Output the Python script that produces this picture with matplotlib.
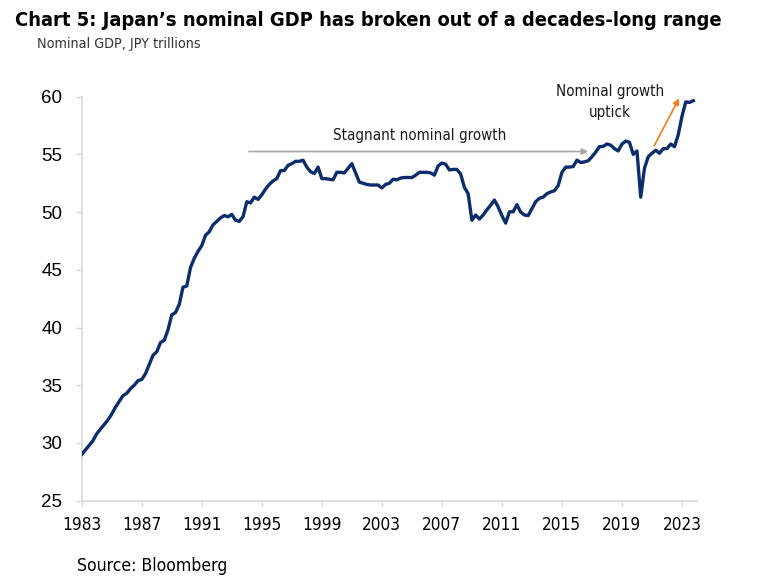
import matplotlib
matplotlib.use("Agg")
import matplotlib.pyplot as plt
import numpy as np

# Quarterly nominal GDP (JPY trillions), 1983Q1 .. 2023Q4
gdp_1983_1992 = [
    29.0, 29.4, 29.8, 30.2,
    30.8, 31.2, 31.6, 32.0,
    32.5, 33.1, 33.6, 34.1,
    34.3, 34.7, 35.0, 35.4,
    35.5, 36.0, 36.8, 37.6,
    37.9, 38.7, 38.9, 39.8,
    41.1, 41.3, 42.0, 43.5,
    43.6, 45.2, 46.0, 46.6,
    47.1, 48.0, 48.3, 48.9,
    49.2, 49.5, 49.7, 49.6,
]
gdp_1993_2002 = [
    49.8, 49.3, 49.2, 49.6,
    50.9, 50.8, 51.3, 51.1,
    51.5, 52.0, 52.4, 52.7,
    52.9, 53.6, 53.6, 54.05,
    54.2, 54.4, 54.4, 54.5,
    53.9, 53.5, 53.35, 53.9,
    52.9, 52.9, 52.85, 52.8,
    53.45, 53.45, 53.4, 53.8,
    54.2, 53.4, 52.6, 52.5,
    52.4, 52.35, 52.35, 52.35,
]
gdp_2003_2012 = [
    52.1, 52.4, 52.5, 52.85,
    52.8, 52.95, 53.0, 53.0,
    53.0, 53.2, 53.45, 53.45,
    53.45, 53.4, 53.2, 54.0,
    54.25, 54.15, 53.65, 53.7,
    53.7, 53.3, 52.15, 51.6,
    49.3, 49.75, 49.4, 49.75,
    50.2, 50.6, 51.05, 50.45,
    49.7, 49.05, 50.03, 50.03,
    50.65, 50.0, 49.75, 49.7,
]
gdp_2013_2023 = [
    50.3, 50.9, 51.2, 51.3,
    51.6, 51.75, 51.85, 52.3,
    53.45, 53.9, 53.9, 53.95,
    54.5, 54.3, 54.35, 54.45,
    54.8, 55.2, 55.67, 55.7,
    55.9, 55.8, 55.5, 55.3,
    55.9, 56.15, 56.05, 55.0,
    55.3, 51.3, 53.8, 54.8,
    55.1, 55.36, 55.1, 55.5,
    55.5, 55.9, 55.67, 56.7,
    58.3, 59.55, 59.5, 59.65,
]
gdp = gdp_1983_1992 + gdp_1993_2002 + gdp_2003_2012 + gdp_2013_2023
start_year = 1983
dates = start_year + np.arange(len(gdp)) / 4.0

xtick_years = [1983, 1987, 1991, 1995, 1999, 2003, 2007, 2011, 2015, 2019, 2023]
ytick_vals = [25, 30, 35, 40, 45, 50, 55, 60]

title = "Chart 5: Japan\u2019s nominal GDP has broken out of a decades-long range"
subtitle = "Nominal GDP, JPY trillions"
source = "Source: Bloomberg"
stagnant_label = "Stagnant nominal growth"
uptick_label = "Nominal growth\nuptick"
stagnant_arrow = ((1994.15, 55.25), (2016.75, 55.25))
uptick_arrow = ((2021.15, 55.75), (2022.8, 59.85))

COND = dict(family="DejaVu Sans", fontstretch="condensed")
LINE_COLOR = "#0b2d6b"
AXIS_COLOR = "#d9d9d9"

fig = plt.figure(figsize=(7.72, 5.88), dpi=100)
ax = fig.add_axes([81.7 / 772, 1 - 500.7 / 588, (697 - 81.7) / 772, (500.7 - 96.7) / 588])

ax.plot(dates, gdp, color=LINE_COLOR, lw=2.4, solid_joinstyle="round", zorder=3)

ax.set_xlim(1983, 2024)
ax.set_ylim(25, 60)
ax.set_xticks(xtick_years)
ax.set_xticklabels([str(y) for y in xtick_years], fontsize=12.3, color="#000000", **COND)
ax.set_yticks(ytick_vals)
ax.set_yticklabels([str(v) for v in ytick_vals], family=["Liberation Sans", "DejaVu Sans"],
                   fontsize=13.5, color="#000000")
ax.tick_params(axis="both", length=4, width=1, color=AXIS_COLOR)
ax.tick_params(axis="x", pad=7)
ax.tick_params(axis="y", pad=10)
for s in ["top", "right"]:
    ax.spines[s].set_visible(False)
for s in ["left", "bottom"]:
    ax.spines[s].set_color(AXIS_COLOR)
    ax.spines[s].set_linewidth(1.2)

# annotations
ax.annotate("", xy=stagnant_arrow[1], xytext=stagnant_arrow[0],
            arrowprops=dict(arrowstyle="-|>", color="#a6a6a6", lw=1.2,
                            mutation_scale=9, shrinkA=0, shrinkB=0), zorder=2)
ax.text(2005.5, 56.68, stagnant_label, fontsize=10.9,
        ha="center", va="center", color="#1a1a1a", **COND)
ax.annotate("", xy=uptick_arrow[1], xytext=uptick_arrow[0],
            arrowprops=dict(arrowstyle="-|>", color="#f07d1a", lw=1.2,
                            mutation_scale=9, shrinkA=0, shrinkB=0), zorder=2)
fig.text(610 / 772, 1 - 102 / 588, uptick_label, fontsize=10.9,
         ha="center", va="center", color="#1a1a1a", linespacing=1.45, **COND)

fig.text(15 / 772, 1 - 21 / 588, title, fontsize=14.4,
         fontweight="bold", ha="left", va="center", color="#000000", **COND)
fig.text(37 / 772, 1 - 44 / 588, subtitle, fontsize=10.3,
         ha="left", va="center", color="#333333", **COND)
fig.text(77 / 772, 1 - 566 / 588, source, fontsize=12.6,
         ha="left", va="center", color="#000000", **COND)

fig.savefig("out.png", dpi=100)
